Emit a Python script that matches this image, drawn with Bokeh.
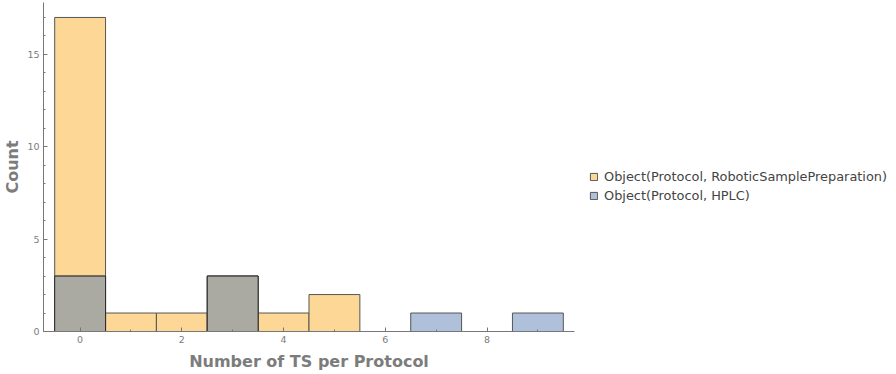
from bokeh.plotting import figure
from bokeh.models import (ColumnDataSource, Legend, LegendItem,
                          SingleIntervalTicker, Range1d)
from bokeh.embed import file_html
from bokeh.resources import INLINE

# ---- data ----
bins = [0, 1, 2, 3, 4, 5, 6, 7, 8, 9]
robotic_counts = [17, 1, 1, 3, 1, 2, 0, 0, 0, 0]
hplc_counts = [3, 0, 0, 3, 0, 0, 0, 1, 0, 1]
series_names = ["Object(Protocol, RoboticSamplePreparation)",
                "Object(Protocol, HPLC)"]
x_label = "Number of TS per Protocol"
y_label = "Count"

ORANGE = "#FCD795"
BLUE = "#AFC1DA"
GRAY = "#ABAAA2"
FONT = "DejaVu Sans"
TXT = "#7c7c7c"


def quads(counts):
    d = dict(left=[], right=[], top=[], bottom=[])
    for b, c in zip(bins, counts):
        if c > 0:
            d["left"].append(b - 0.5)
            d["right"].append(b + 0.5)
            d["top"].append(c)
            d["bottom"].append(0)
    return ColumnDataSource(d)


overlap_counts = [min(a, b) for a, b in zip(robotic_counts, hplc_counts)]

p = figure(frame_width=531, frame_height=329,
           x_range=Range1d(-0.72, 9.72), y_range=Range1d(0, 17.81),
           output_backend="svg", toolbar_location=None,
           min_border_top=2, min_border_left=0, min_border_bottom=0,
           min_border_right=0)
p.outline_line_color = None
p.xgrid.visible = False
p.ygrid.visible = False
p.background_fill_color = "white"

r1 = p.quad(source=quads(robotic_counts), left="left", right="right",
            top="top", bottom="bottom", fill_color=ORANGE,
            line_color="#555555", line_width=1)
r2 = p.quad(source=quads(hplc_counts), left="left", right="right",
            top="top", bottom="bottom", fill_color=BLUE,
            line_color="#555555", line_width=1)
p.quad(source=quads(overlap_counts), left="left", right="right",
       top="top", bottom="bottom", fill_color=GRAY,
       line_color="#2a2a2a", line_width=1)

for ax, tick in ((p.xaxis[0], SingleIntervalTicker(interval=2, num_minor_ticks=2)),
                 (p.yaxis[0], SingleIntervalTicker(interval=5, num_minor_ticks=5))):
    ax.ticker = tick
    ax.major_tick_out = 0
    ax.major_tick_in = 4
    ax.minor_tick_out = 0
    ax.minor_tick_in = 2
    ax.axis_line_color = "#777777"
    ax.major_tick_line_color = "#777777"
    ax.minor_tick_line_color = "#777777"
    ax.major_label_text_font = FONT
    ax.major_label_text_font_size = "9.5px"
    ax.major_label_text_color = TXT
    ax.axis_label_text_font = FONT
    ax.axis_label_text_font_size = "16px"
    ax.axis_label_text_font_style = "bold"
    ax.axis_label_text_color = TXT

p.xaxis.axis_label = x_label
p.yaxis.axis_label = y_label
p.xaxis.major_label_standoff = 4
p.xaxis.axis_label_standoff = 6
p.yaxis.major_label_standoff = 4
p.yaxis.axis_label_standoff = 2

legend = Legend(items=[LegendItem(label=series_names[0], renderers=[r1]),
                       LegendItem(label=series_names[1], renderers=[r2])],
                location=(15, 128), orientation="vertical",
                border_line_color=None, background_fill_alpha=0,
                padding=0, margin=0, spacing=4,
                glyph_width=9, glyph_height=9, label_standoff=6,
                label_height=14,
                label_text_font=FONT, label_text_font_size="12.9px",
                label_text_color="#444444")
p.add_layout(legend, "right")

open("out.html", "w").write(file_html(p, INLINE))
